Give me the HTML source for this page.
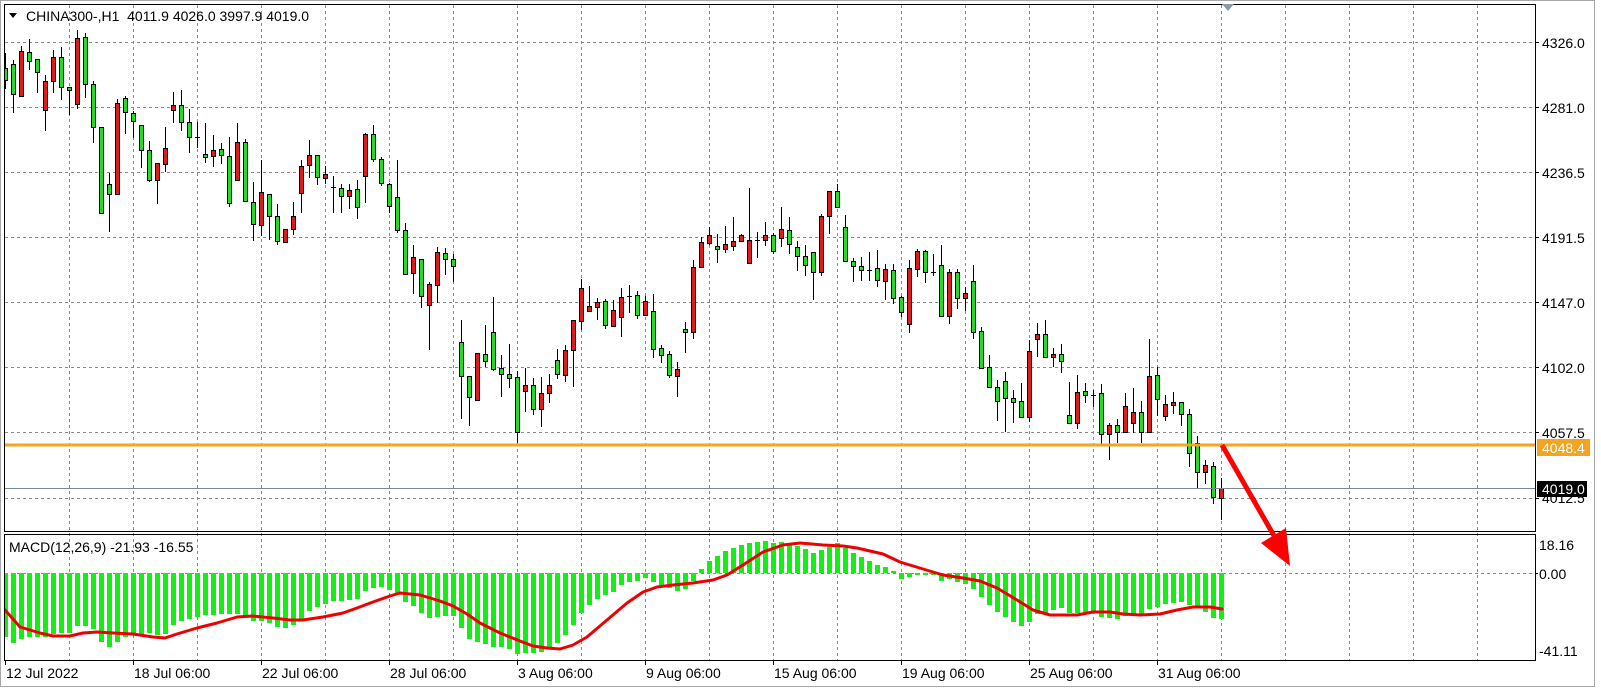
<!DOCTYPE html>
<html><head><meta charset="utf-8">
<style>
html,body{margin:0;padding:0;background:#fff}
svg{display:block}
text{font-family:"Liberation Sans",Arial,sans-serif;font-size:14px;fill:#000;white-space:pre}
</style></head>
<body>
<svg width="1601" height="689" viewBox="0 0 1601 689" xmlns="http://www.w3.org/2000/svg">
<defs>
<clipPath id="cm"><rect x="5" y="5" width="1530" height="526"/></clipPath>
<clipPath id="cd"><rect x="5" y="535" width="1530" height="125"/></clipPath>
</defs>
<rect x="0" y="0" width="1601" height="689" fill="#fff"/>
<rect x="0.5" y="0.5" width="1594" height="686" fill="#fff" stroke="#a8a8a8"/>

<!-- grid -->
<path fill="none" stroke="#8a8a8a" stroke-width="1" stroke-dasharray="3,3" d="M69.5 5V660M133.5 5V660M197.5 5V660M261.5 5V660M325.5 5V660M389.5 5V660M453.5 5V660M517.5 5V660M581.5 5V660M645.5 5V660M709.5 5V660M773.5 5V660M837.5 5V660M901.5 5V660M965.5 5V660M1029.5 5V660M1093.5 5V660M1157.5 5V660M1221.5 5V660M1285.5 5V660M1349.5 5V660M1413.5 5V660M1477.5 5V660
M5 42.5H1535M5 107.5H1535M5 172.5H1535M5 237.5H1535M5 302.5H1535M5 367.5H1535M5 432.5H1535M5 498.5H1535M5 573.5H1535"/>

<!-- MACD histogram -->
<g clip-path="url(#cd)">
<path fill="#14ee14" d="M3 573h5V637h-5zM11 573h5V643h-5zM19 573h5V639h-5zM27 573h5V637h-5zM35 573h5V637h-5zM43 573h5V637h-5zM51 573h5V634h-5zM59 573h5V633h-5zM67 573h5V633h-5zM75 573h5V626h-5zM83 573h5V626h-5zM91 573h5V629h-5zM99 573h5V642h-5zM107 573h5V647h-5zM115 573h5V642h-5zM123 573h5V637h-5zM131 573h5V635h-5zM139 573h5V635h-5zM147 573h5V633h-5zM155 573h5V635h-5zM163 573h5V634h-5zM171 573h5V625h-5zM179 573h5V621h-5zM187 573h5V619h-5zM195 573h5V617h-5zM203 573h5V615h-5zM211 573h5V615h-5zM219 573h5V614h-5zM227 573h5V614h-5zM235 573h5V614h-5zM243 573h5V617h-5zM251 573h5V621h-5zM259 573h5V621h-5zM267 573h5V623h-5zM275 573h5V627h-5zM283 573h5V628h-5zM291 573h5V625h-5zM299 573h5V619h-5zM307 573h5V611h-5zM315 573h5V607h-5zM323 573h5V604h-5zM331 573h5V601h-5zM339 573h5V601h-5zM347 573h5V600h-5zM355 573h5V599h-5zM363 573h5V591h-5zM371 573h5V588h-5zM379 573h5V587h-5zM387 573h5V590h-5zM395 573h5V593h-5zM403 573h5V602h-5zM411 573h5V606h-5zM419 573h5V613h-5zM427 573h5V618h-5zM435 573h5V617h-5zM443 573h5V616h-5zM451 573h5V616h-5zM459 573h5V628h-5zM467 573h5V639h-5zM475 573h5V642h-5zM483 573h5V644h-5zM491 573h5V647h-5zM499 573h5V647h-5zM507 573h5V649h-5zM515 573h5V654h-5zM523 573h5V653h-5zM531 573h5V653h-5zM539 573h5V652h-5zM547 573h5V648h-5zM555 573h5V643h-5zM563 573h5V635h-5zM571 573h5V625h-5zM579 573h5V613h-5zM587 573h5V605h-5zM595 573h5V599h-5zM603 573h5V595h-5zM611 573h5V592h-5zM619 573h5V585h-5zM627 573h5V582h-5zM635 573h5V581h-5zM643 573h5V578h-5zM651 573h5V582h-5zM659 573h5V585h-5zM667 573h5V588h-5zM675 573h5V591h-5zM683 573h5V589h-5zM691 573h5V581h-5zM699 573h5V569h-5zM707 573h5V561h-5zM715 573h5V556h-5zM723 573h5V551h-5zM731 573h5V548h-5zM739 573h5V545h-5zM747 573h5V543h-5zM755 573h5V542h-5zM763 573h5V541h-5zM771 573h5V543h-5zM779 573h5V542h-5zM787 573h5V544h-5zM795 573h5V546h-5zM803 573h5V549h-5zM811 573h5V553h-5zM819 573h5V550h-5zM827 573h5V547h-5zM835 573h5V543h-5zM843 573h5V548h-5zM851 573h5V553h-5zM859 573h5V557h-5zM867 573h5V561h-5zM875 573h5V565h-5zM883 573h5V567h-5zM891 573h5V571h-5zM899 573h5V579h-5zM907 573h5V577h-5zM915 573h5V575h-5zM923 573h5V575h-5zM931 573h5V575h-5zM939 573h5V581h-5zM947 573h5V579h-5zM955 573h5V582h-5zM963 573h5V584h-5zM971 573h5V589h-5zM979 573h5V597h-5zM987 573h5V605h-5zM995 573h5V612h-5zM1003 573h5V617h-5zM1011 573h5V622h-5zM1019 573h5V626h-5zM1027 573h5V622h-5zM1035 573h5V614h-5zM1043 573h5V613h-5zM1051 573h5V610h-5zM1059 573h5V608h-5zM1067 573h5V613h-5zM1075 573h5V613h-5zM1083 573h5V613h-5zM1091 573h5V613h-5zM1099 573h5V617h-5zM1107 573h5V618h-5zM1115 573h5V619h-5zM1123 573h5V616h-5zM1131 573h5V615h-5zM1139 573h5V614h-5zM1147 573h5V609h-5zM1155 573h5V607h-5zM1163 573h5V604h-5zM1171 573h5V603h-5zM1179 573h5V602h-5zM1187 573h5V605h-5zM1195 573h5V607h-5zM1203 573h5V612h-5zM1211 573h5V618h-5zM1219 573h5V619h-5z"/>
<polyline fill="none" stroke="#ee0000" stroke-width="3" stroke-linejoin="round" stroke-linecap="round" points="5,610 20,627 40,633 53,636 70,636 83,633 97,632 113,633 133,634 153,637 165,638 177,634 197,628 217,623 237,617 253,616 273,618 290,620 303,620 323,617 343,613 357,608 373,602 390,596 400,593 420,595 440,601 453,606 467,614 480,623 500,633 520,641 533,646 547,648 560,649 573,645 587,637 607,620 627,603 643,592 657,587 673,585 693,583 713,580 727,575 743,565 763,552 783,545 800,543 823,545 843,546 857,548 883,554 900,562 923,569 943,575 963,578 980,581 997,588 1017,600 1033,610 1050,615 1077,615 1093,612 1110,612 1123,614 1140,615 1160,614 1177,610 1193,607 1210,607 1222,609"/>
</g>

<!-- candles -->
<g clip-path="url(#cm)">
<path fill="none" stroke="#000" stroke-width="1" d="M5.5 53V89M13.5 60V113M21.5 46V96M29.5 39V70M37.5 59V93M45.5 75V131M53.5 50V93M61.5 47V100M69.5 87V115M77.5 30V109M85.5 33V98M93.5 81V143M101.5 127V213M109.5 173V232M117.5 99V195M125.5 96V134M133.5 111V138M141.5 125V168M149.5 141V182M157.5 163V204M165.5 127V172M173.5 92V123M181.5 90V131M189.5 109V153M197.5 122V148M205.5 123V163M213.5 135V167M221.5 143V164M229.5 137V207M237.5 123V180M245.5 139V202M253.5 182V241M261.5 160V236M269.5 194V240M277.5 204V245M285.5 229V243M293.5 202V235M301.5 160V213M309.5 140V178M317.5 155V185M325.5 166V184M333.5 176V213M341.5 184V213M349.5 184V209M357.5 180V219M365.5 133V203M373.5 125V162M381.5 157V186M389.5 183V213M397.5 160V233M405.5 223V274M413.5 245V294M421.5 259V308M429.5 282V350M437.5 247V303M445.5 248V275M453.5 254V282M461.5 320V419M469.5 376V426M477.5 353V400M485.5 325V367M493.5 297V371M501.5 355V397M509.5 344V388M517.5 371V443M525.5 368V412M533.5 378V415M541.5 377V427M549.5 374V403M557.5 349V379M565.5 345V382M573.5 320V387M581.5 279V330M589.5 286V311M597.5 298V320M605.5 299V329M613.5 300V327M621.5 288V337M629.5 285V313M637.5 291V319M645.5 296V316M653.5 294V358M661.5 345V363M669.5 351V378M677.5 362V397M685.5 322V353M693.5 260V339M701.5 237V268M709.5 227V245M717.5 234V263M725.5 226V253M733.5 217V251M741.5 234V242M749.5 188V263M757.5 232V258M765.5 222V246M773.5 233V254M781.5 207V247M789.5 217V254M797.5 241V271M805.5 245V276M813.5 252V300M821.5 214V276M829.5 191V234M837.5 184V208M845.5 215V261M853.5 258V282M861.5 257V281M869.5 252V281M877.5 250V287M885.5 264V300M893.5 264V304M901.5 296V317M909.5 260V333M917.5 249V277M925.5 250V283M933.5 254V276M941.5 245V317M949.5 269V324M957.5 269V309M965.5 287V311M973.5 265V339M981.5 327V369M989.5 355V388M997.5 380V421M1005.5 372V432M1013.5 390V423M1021.5 383V417M1029.5 340V422M1037.5 323V357M1045.5 320V358M1053.5 348V367M1061.5 344V373M1069.5 382V423M1077.5 375V429M1085.5 383V403M1093.5 390V407M1101.5 384V444M1109.5 423V460M1117.5 419V443M1125.5 393V433M1133.5 388V433M1141.5 401V443M1149.5 339V433M1157.5 367V416M1165.5 395V421M1173.5 392V414M1181.5 402V426M1189.5 409V467M1197.5 436V489M1205.5 460V484M1213.5 462V504M1221.5 478V520"/>
<path fill="none" stroke="#000" stroke-width="1" d="M195 137.5h5M331 187.5h5M627 296.5h5M755 240.5h5M867 270.5h5M931 272.5h5M1091 395.5h5"/>
<path fill="#22dd22" stroke="#000" stroke-width="1" d="M3.5 68.5h4v12h-4zM11.5 64.5h4v30h-4zM27.5 52.5h4v9h-4zM35.5 59.5h4v13h-4zM59.5 57.5h4v30h-4zM67.5 87.5h4v3h-4zM83.5 37.5h4v47h-4zM91.5 84.5h4v43h-4zM99.5 127.5h4v86h-4zM107.5 184.5h4v10h-4zM123.5 98.5h4v14h-4zM131.5 113.5h4v8h-4zM139.5 125.5h4v25h-4zM147.5 150.5h4v30h-4zM179.5 105.5h4v17h-4zM187.5 122.5h4v15h-4zM203.5 154.5h4v3h-4zM219.5 149.5h4v6h-4zM227.5 156.5h4v47h-4zM243.5 142.5h4v59h-4zM251.5 202.5h4v22h-4zM267.5 194.5h4v22h-4zM275.5 216.5h4v25h-4zM315.5 155.5h4v22h-4zM339.5 188.5h4v8h-4zM355.5 189.5h4v18h-4zM371.5 134.5h4v25h-4zM379.5 159.5h4v24h-4zM387.5 184.5h4v22h-4zM395.5 197.5h4v33h-4zM403.5 230.5h4v44h-4zM419.5 259.5h4v37h-4zM443.5 253.5h4v6h-4zM451.5 259.5h4v7h-4zM459.5 342.5h4v34h-4zM467.5 376.5h4v21h-4zM483.5 354.5h4v7h-4zM491.5 332.5h4v37h-4zM499.5 368.5h4v6h-4zM507.5 374.5h4v4h-4zM515.5 377.5h4v55h-4zM531.5 385.5h4v24h-4zM555.5 360.5h4v14h-4zM603.5 301.5h4v24h-4zM635.5 295.5h4v20h-4zM651.5 311.5h4v38h-4zM659.5 348.5h4v7h-4zM667.5 354.5h4v21h-4zM683.5 329.5h4v3h-4zM715.5 246.5h4v3h-4zM771.5 235.5h4v16h-4zM787.5 230.5h4v14h-4zM795.5 247.5h4v9h-4zM803.5 256.5h4v9h-4zM811.5 252.5h4v20h-4zM835.5 191.5h4v16h-4zM843.5 227.5h4v34h-4zM851.5 261.5h4v5h-4zM859.5 266.5h4v4h-4zM875.5 268.5h4v12h-4zM891.5 270.5h4v28h-4zM899.5 297.5h4v15h-4zM923.5 251.5h4v21h-4zM939.5 265.5h4v51h-4zM955.5 272.5h4v26h-4zM971.5 281.5h4v51h-4zM979.5 331.5h4v37h-4zM987.5 367.5h4v20h-4zM995.5 387.5h4v14h-4zM1003.5 381.5h4v17h-4zM1011.5 398.5h4v4h-4zM1019.5 401.5h4v16h-4zM1043.5 334.5h4v23h-4zM1059.5 354.5h4v7h-4zM1067.5 415.5h4v8h-4zM1083.5 391.5h4v4h-4zM1099.5 393.5h4v41h-4zM1115.5 425.5h4v7h-4zM1139.5 412.5h4v20h-4zM1155.5 375.5h4v24h-4zM1179.5 402.5h4v12h-4zM1187.5 414.5h4v39h-4zM1195.5 443.5h4v29h-4zM1211.5 466.5h4v31h-4z"/>
<path fill="#dd1c1c" stroke="#000" stroke-width="1" d="M19.5 51.5h4v45h-4zM43.5 81.5h4v29h-4zM51.5 57.5h4v24h-4zM75.5 38.5h4v66h-4zM115.5 103.5h4v91h-4zM155.5 163.5h4v17h-4zM163.5 148.5h4v16h-4zM171.5 105.5h4v5h-4zM211.5 150.5h4v6h-4zM235.5 142.5h4v38h-4zM259.5 192.5h4v33h-4zM283.5 229.5h4v13h-4zM291.5 216.5h4v13h-4zM299.5 166.5h4v27h-4zM307.5 155.5h4v10h-4zM323.5 174.5h4v4h-4zM347.5 190.5h4v6h-4zM363.5 134.5h4v42h-4zM411.5 257.5h4v16h-4zM427.5 284.5h4v21h-4zM435.5 252.5h4v33h-4zM475.5 353.5h4v47h-4zM523.5 385.5h4v6h-4zM539.5 393.5h4v16h-4zM547.5 385.5h4v8h-4zM563.5 350.5h4v25h-4zM571.5 320.5h4v30h-4zM579.5 288.5h4v33h-4zM587.5 306.5h4v5h-4zM595.5 302.5h4v5h-4zM611.5 310.5h4v16h-4zM619.5 297.5h4v20h-4zM643.5 301.5h4v14h-4zM675.5 369.5h4v7h-4zM691.5 267.5h4v65h-4zM699.5 242.5h4v25h-4zM707.5 235.5h4v8h-4zM723.5 244.5h4v5h-4zM731.5 241.5h4v5h-4zM739.5 235.5h4v6h-4zM747.5 240.5h4v23h-4zM763.5 235.5h4v5h-4zM779.5 229.5h4v9h-4zM819.5 216.5h4v56h-4zM827.5 191.5h4v25h-4zM883.5 269.5h4v12h-4zM907.5 268.5h4v56h-4zM915.5 251.5h4v18h-4zM947.5 272.5h4v44h-4zM963.5 293.5h4v5h-4zM1027.5 351.5h4v66h-4zM1035.5 334.5h4v5h-4zM1051.5 354.5h4v3h-4zM1075.5 392.5h4v31h-4zM1107.5 425.5h4v9h-4zM1123.5 406.5h4v26h-4zM1131.5 412.5h4v11h-4zM1147.5 376.5h4v56h-4zM1163.5 404.5h4v12h-4zM1171.5 402.5h4v3h-4zM1203.5 465.5h4v7h-4zM1219.5 488.5h4v10h-4z"/>
<!-- bid line -->
<path stroke="#778899" stroke-width="1" d="M5 488.5H1535"/>
<!-- orange level -->
<rect x="5" y="443.5" width="1530" height="3" fill="#f4a41f"/>
</g>

<!-- borders -->
<rect x="4.5" y="4.5" width="1531" height="527" fill="none" stroke="#000"/>
<rect x="4.5" y="534.5" width="1531" height="126" fill="none" stroke="#000"/>

<!-- shift marker -->
<polygon points="1222,4 1234,4 1228,11" fill="#8c9aa8"/>

<!-- arrow -->
<line x1="1222" y1="445" x2="1277" y2="541" stroke="#f00" stroke-width="5"/>
<polygon points="1290,566 1261,543 1286,528" fill="#f00"/>

<!-- right axis ticks -->
<path stroke="#000" d="M1535 42.5h4M1535 107.5h4M1535 172.5h4M1535 237.5h4M1535 302.5h4M1535 367.5h4M1535 432.5h4M1535 498.5h4M1535 573.5h3M5.5 660V665M133.5 660V665M261.5 660V665M389.5 660V665M517.5 660V665M645.5 660V665M773.5 660V665M901.5 660V665M1029.5 660V665M1157.5 660V665"/>

<!-- right axis labels -->
<text x="1542" y="48">4326.0</text>
<text x="1542" y="113">4281.0</text>
<text x="1542" y="178">4236.5</text>
<text x="1542" y="243">4191.5</text>
<text x="1542" y="308">4147.0</text>
<text x="1542" y="373">4102.0</text>
<text x="1542" y="438">4057.5</text>
<text x="1542" y="503">4012.5</text>
<rect x="1537" y="439" width="53" height="17" fill="#f4a41f"/>
<text x="1542" y="453" style="fill:#fff">4048.4</text>
<rect x="1537" y="481" width="50" height="16" fill="#000"/>
<text x="1542" y="494" style="fill:#fff">4019.0</text>

<text x="1539" y="550">18.16</text>
<text x="1539" y="579">0.00</text>
<text x="1539" y="656">-41.11</text>

<!-- title -->
<polygon points="9,13 17,13 13,18" fill="#000"/>
<text x="26" y="21">CHINA300-,H1  4011.9 4026.0 3997.9 4019.0</text>
<text x="9" y="552">MACD(12,26,9) -21.93 -16.55</text>

<!-- time labels -->
<text x="6" y="678">12 Jul 2022</text>
<text x="134" y="678">18 Jul 06:00</text>
<text x="262" y="678">22 Jul 06:00</text>
<text x="390" y="678">28 Jul 06:00</text>
<text x="518" y="678">3 Aug 06:00</text>
<text x="646" y="678">9 Aug 06:00</text>
<text x="774" y="678">15 Aug 06:00</text>
<text x="902" y="678">19 Aug 06:00</text>
<text x="1030" y="678">25 Aug 06:00</text>
<text x="1158" y="678">31 Aug 06:00</text>
</svg>
</body></html>
